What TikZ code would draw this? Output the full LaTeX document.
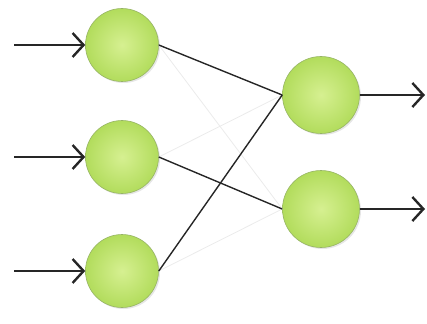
\documentclass[tikz,border=0pt]{standalone}
\usetikzlibrary{arrows.meta,shadows}
\definecolor{ballouter}{RGB}{178,220,92}
\definecolor{ballinner}{RGB}{214,240,145}
\definecolor{ballrim}{RGB}{150,180,100}
\tikzset{
  neuron/.style={circle, minimum size=73pt, inner sep=0pt, draw=ballrim, line width=0.6pt,
    inner color=ballinner, outer color=ballouter,
    drop shadow={shadow xshift=1.5pt, shadow yshift=-1.5pt, opacity=0.2}},
  inarrow/.style={line width=2.6pt, draw=black!85, -{Straight Barb[length=11pt,width=24pt,line width=2.4pt]}},
  link/.style={line width=1.4pt, draw=black!85},
  faint/.style={line width=0.8pt, draw=black!8}
}
\begin{document}
\begin{tikzpicture}[x=1pt,y=-1pt]
\useasboundingbox (0,0) rectangle (427,323);
\node[neuron] (i1) at (122,45) {};
\node[neuron] (i2) at (122,157) {};
\node[neuron] (i3) at (122,271) {};
\node[neuron, minimum size=77pt] (o1) at (321,95) {};
\node[neuron, minimum size=77pt] (o2) at (321,209) {};
\coordinate (s1) at (14,45);
\coordinate (s2) at (14,157);
\coordinate (s3) at (14,271);
\coordinate (e1) at (425,95);
\coordinate (e2) at (425,209);
\draw[faint] (i1.east) -- (o2.west);
\draw[faint] (i2.east) -- (o1.west);
\draw[faint] (i3.east) -- (o2.west);
\draw[link] (i1.east) -- (o1.west);
\draw[link] (i2.east) -- (o2.west);
\draw[link] (i3.east) -- (o1.west);
\draw[inarrow] (s1) -- (i1.west);
\draw[inarrow] (s2) -- (i2.west);
\draw[inarrow] (s3) -- (i3.west);
\draw[inarrow] (o1.east) -- (e1);
\draw[inarrow] (o2.east) -- (e2);
\end{tikzpicture}
\end{document}
